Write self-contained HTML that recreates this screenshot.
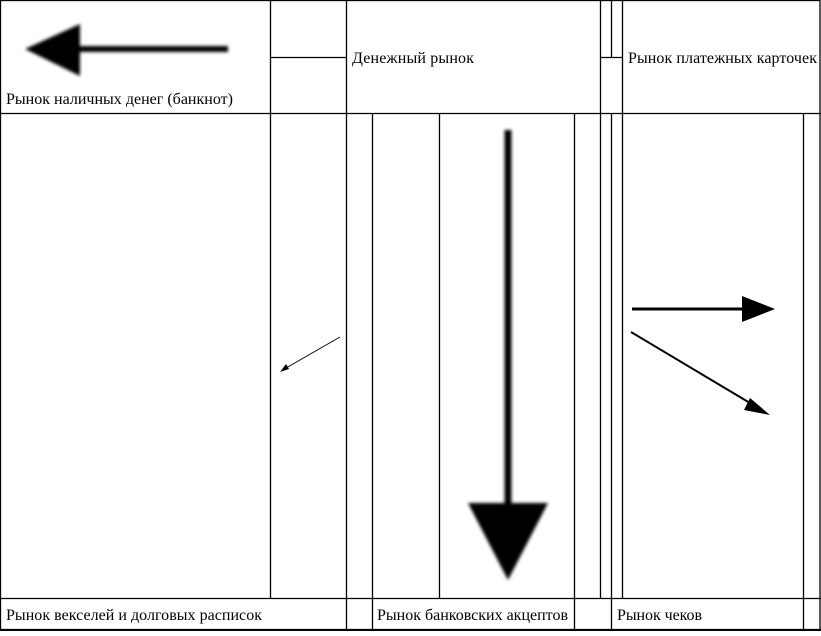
<!DOCTYPE html><html><head><style>
body{margin:0;background:#fff}
svg text{font-family:"Liberation Serif",serif;font-size:16px;fill:#000}
</style></head><body>
<svg width="821" height="631" xmlns="http://www.w3.org/2000/svg">
<defs><filter id="b"><feGaussianBlur stdDeviation="1.5"/></filter></defs>
<g stroke="#000" stroke-width="1.3" fill="none">
<rect x="0.5" y="0.5" width="819.5" height="629" />
<line x1="0" y1="630" x2="821" y2="630" stroke-width="2"/>
<line x1="0" y1="113.5" x2="821" y2="113.5"/>
<line x1="0" y1="598.5" x2="821" y2="598.5"/>
<line x1="270" y1="57.5" x2="346" y2="57.5"/>
<line x1="600" y1="57.5" x2="622" y2="57.5"/>
<line x1="270.5" y1="0" x2="270.5" y2="598"/>
<line x1="346.5" y1="0" x2="346.5" y2="630"/>
<line x1="600.5" y1="0" x2="600.5" y2="598"/>
<line x1="611.5" y1="0" x2="611.5" y2="57"/>
<line x1="611.5" y1="113" x2="611.5" y2="630"/>
<line x1="622.5" y1="0" x2="622.5" y2="598"/>
<line x1="372.5" y1="113" x2="372.5" y2="630"/>
<line x1="439.5" y1="113" x2="439.5" y2="598"/>
<line x1="574.5" y1="113" x2="574.5" y2="630"/>
<line x1="803.5" y1="113" x2="803.5" y2="630"/>
</g>
<g filter="url(#b)">
<line x1="228" y1="49" x2="70" y2="49" stroke="#000" stroke-width="6"/>
<polygon points="25,49 80,24 80,76" fill="#000"/>
<line x1="508" y1="130" x2="508" y2="520" stroke="#000" stroke-width="7"/>
<polygon points="468,503 548,503 508,580" fill="#000"/>
</g>
<line x1="632" y1="309" x2="750" y2="309" stroke="#000" stroke-width="3"/>
<polygon points="775,309 742,296 742,322" fill="#000"/>
<line x1="631" y1="332" x2="755" y2="406" stroke="#000" stroke-width="2"/>
<polygon points="770,415 750,398 744,410" fill="#000"/>
<line x1="340" y1="337" x2="286" y2="368" stroke="#000" stroke-width="1"/>
<polygon points="280,372 286,364 289,369" fill="#000"/>
<text x="6" y="104" textLength="227">Рынок наличных денег (банкнот)</text>
<text x="352" y="63" textLength="122">Денежный рынок</text>
<text x="628" y="63" textLength="189">Рынок платежных карточек</text>
<text x="6" y="620" textLength="256">Рынок векселей и долговых расписок</text>
<text x="377" y="620" textLength="191">Рынок банковских акцептов</text>
<text x="617" y="620" textLength="85">Рынок чеков</text>
</svg>
</body></html>
